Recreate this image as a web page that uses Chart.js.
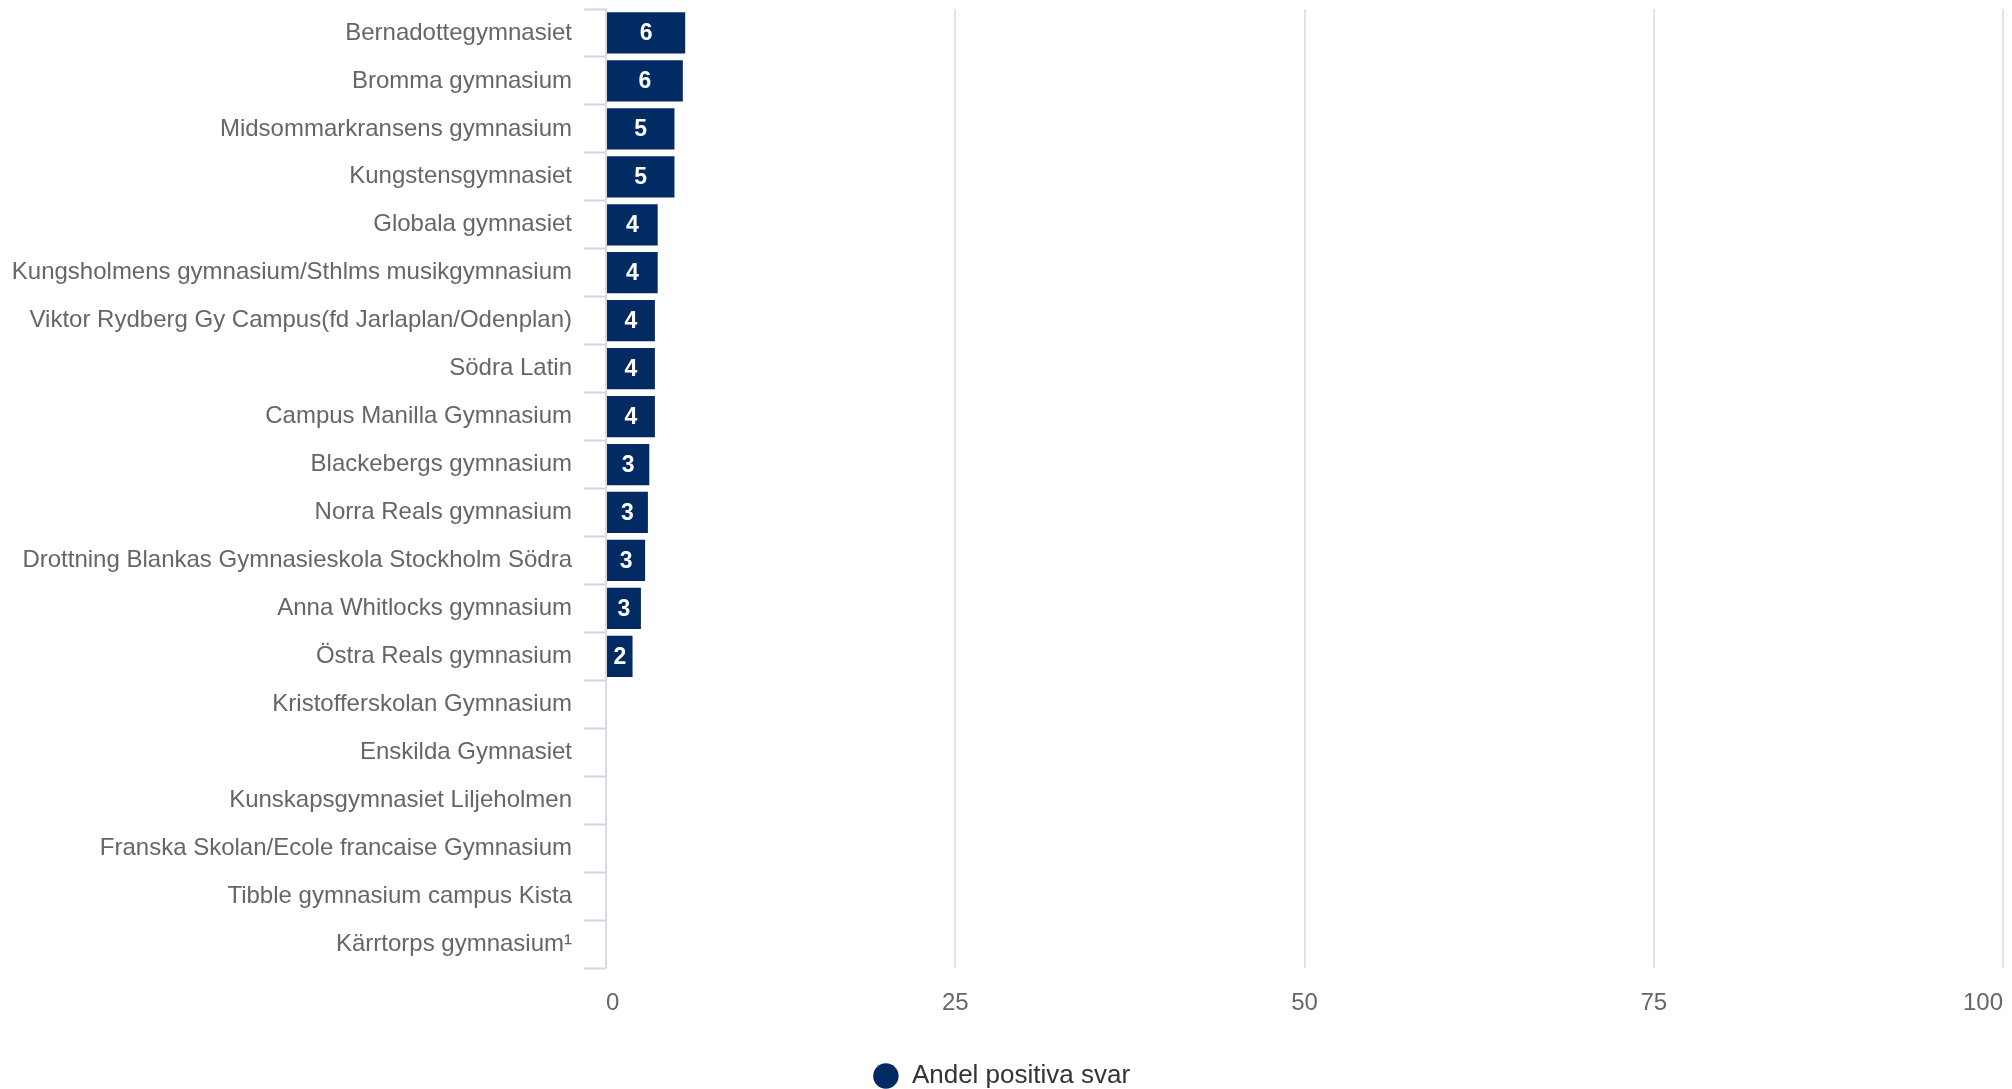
<!DOCTYPE html>
<html>
<head>
<meta charset="utf-8">
<script src="https://cdn.jsdelivr.net/npm/chart.js@4.4.1/dist/chart.umd.min.js"></script>
<style>
    html, body {margin: 0; padding: 0; background: #fff;}
    #wrap {width: 2012px; height: 1089px; position: relative;}
</style>
</head>
<body>
<div id="wrap"><canvas id="chart"></canvas></div>
<script>
const schools = [
    'Bernadottegymnasiet',
    'Bromma gymnasium',
    'Midsommarkransens gymnasium',
    'Kungstensgymnasiet',
    'Globala gymnasiet',
    'Kungsholmens gymnasium/Sthlms musikgymnasium',
    'Viktor Rydberg Gy Campus(fd Jarlaplan/Odenplan)',
    'Södra Latin',
    'Campus Manilla Gymnasium',
    'Blackebergs gymnasium',
    'Norra Reals gymnasium',
    'Drottning Blankas Gymnasieskola Stockholm Södra',
    'Anna Whitlocks gymnasium',
    'Östra Reals gymnasium',
    'Kristofferskolan Gymnasium',
    'Enskilda Gymnasiet',
    'Kunskapsgymnasiet Liljeholmen',
    'Franska Skolan/Ecole francaise Gymnasium',
    'Tibble gymnasium campus Kista',
    'Kärrtorps gymnasium¹'
]
const positiveShare = [5.67, 5.5, 4.9, 4.9, 3.7, 3.7, 3.5, 3.5, 3.5, 3.1, 3.0, 2.8, 2.5, 1.9,
    null, null, null, null, null, null]
const xTicks = [0, 25, 50, 75, 100]
const seriesName = 'Andel positiva svar'

const NAVY = '#032b63'
const FONT = "'Liberation Sans', Arial, Helvetica, sans-serif"

// white value labels inside the bars
const barLabels = {
    id: 'barLabels',
    afterDatasetsDraw(chart) {
        const ctx = chart.ctx
        const meta = chart.getDatasetMeta(0)
        ctx.save()
        ctx.fillStyle = '#ffffff'
        ctx.font = 'bold 23px ' + FONT
        ctx.textAlign = 'center'
        ctx.textBaseline = 'middle'
        meta.data.forEach((bar, i) => {
            const v = chart.data.datasets[0].data[i]
            if (v === null || v === 0) return
            const {x, y, base} = bar.getProps(['x', 'y', 'base'], true)
            ctx.fillText(String(Math.round(v)), (x + base) / 2, y + 1)
        })
        ctx.restore()
    }
}

new Chart(document.getElementById('chart'), {
    type: 'bar',
    data: {
        labels: schools,
        datasets: [{
            label: seriesName,
            data: positiveShare,
            backgroundColor: NAVY,
            borderWidth: 0,
            barPercentage: 0.86,
            categoryPercentage: 1
        }]
    },
    options: {
        indexAxis: 'y',
        responsive: true,
        maintainAspectRatio: false,
        animation: false,
        layout: {padding: {top: 9, right: 9, bottom: -10, left: 0}},
        scales: {
            x: {
                min: 0,
                max: 100,
                afterBuildTicks: s => { s.ticks = xTicks.map(v => ({value: v})) },
                afterFit: s => {
                    s.height = 94
                    s.paddingLeft = 0
                    s.paddingRight = 0
                },
                border: {display: false},
                grid: {color: '#e3e3e3', lineWidth: 2, drawTicks: false},
                ticks: {
                    color: '#666666',
                    font: {family: FONT, size: 24},
                    padding: 21,
                    align: 'inner'
                }
            },
            y: {
                afterFit: s => {
                    s.width = 606
                    s.paddingTop = 0
                    s.paddingBottom = 0
                },
                border: {display: true, color: '#d9dbe3', width: 2},
                grid: {
                    offset: true,
                    drawOnChartArea: false,
                    drawTicks: true,
                    tickLength: 22,
                    tickColor: '#ccd6eb',
                    tickWidth: 2
                },
                ticks: {
                    color: '#666666',
                    font: {family: FONT, size: 24},
                    padding: 12,
                    autoSkip: false
                }
            }
        },
        plugins: {
            legend: {
                position: 'bottom',
                labels: {
                    usePointStyle: true,
                    pointStyle: 'circle',
                    boxWidth: 26,
                    boxHeight: 18,
                    padding: 1,
                    color: '#333333',
                    font: {family: FONT, size: 26}
                }
            },
            tooltip: {enabled: false}
        }
    },
    plugins: [barLabels]
})
</script>
</body>
</html>
